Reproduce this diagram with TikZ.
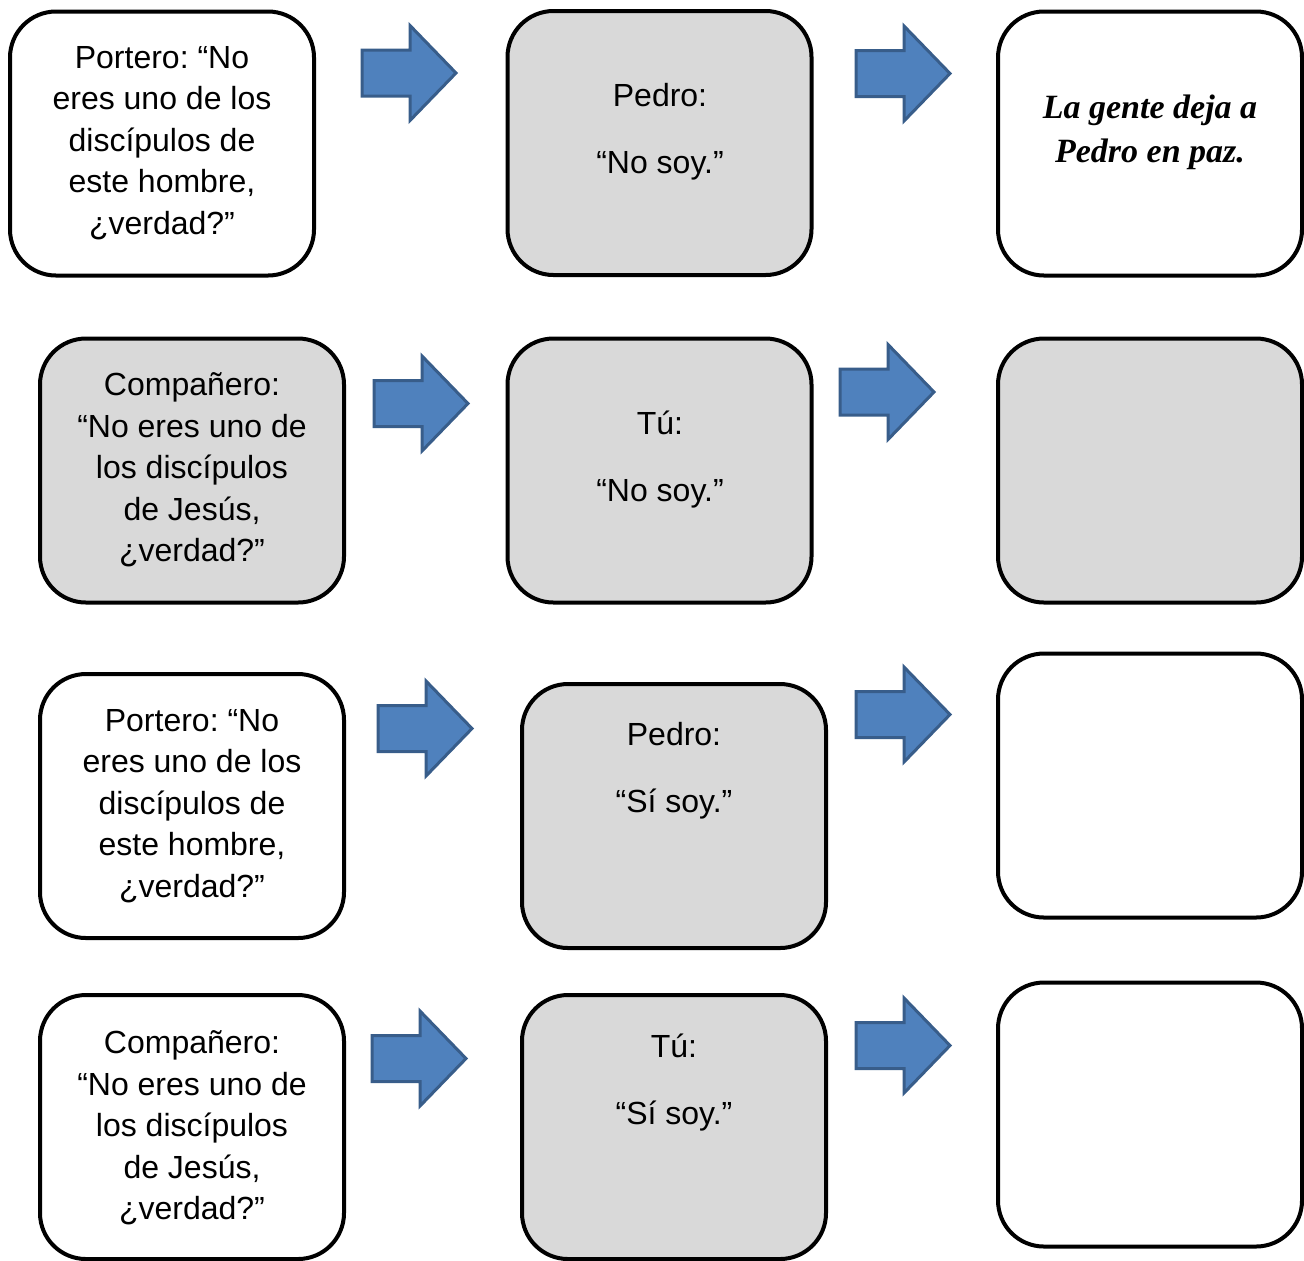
\documentclass[tikz,border=0pt]{standalone}
\usepackage{fontspec}
\setmainfont{Liberation Sans}
\newfontfamily\cursivefam{Liberation Serif}
\definecolor{boxgray}{HTML}{D9D9D9}
\definecolor{arrfill}{HTML}{4F81BD}
\definecolor{arrline}{HTML}{385D8A}
\frenchspacing
\begin{document}
\begin{tikzpicture}[x=0.5pt,y=-0.5pt,
  wbox/.style={draw=black,line width=2pt,rounded corners=23pt,fill=white,
    minimum width=152pt,minimum height=132pt,inner sep=0pt},
  gbox/.style={wbox,fill=boxgray},
  txt/.style={align=center,inner sep=0pt,font=\frenchspacing\fontsize{16}{20.75}\selectfont},
  stxt/.style={align=center,inner sep=0pt,font=\frenchspacing\cursivefam\bfseries\itshape\fontsize{17}{22}\selectfont},
  barrow/.style={fill=arrfill,draw=arrline,line width=1.5pt,line join=miter}
]
\useasboundingbox (0,0) rectangle (1304,1260);

% row 1
\node[wbox] (a1) at (162,143.5) {};
\node[gbox] (b1) at (659.5,143) {};
\node[wbox] (c1) at (1150,143.5) {};
% row 2
\node[gbox] (a2) at (192,470.5) {};
\node[gbox] (b2) at (659.5,470.5) {};
\node[gbox] (c2) at (1150,470.5) {};
% row 3
\node[wbox] (a3) at (192,806) {};
\node[gbox] (b3) at (674,816) {};
\node[wbox] (c3) at (1150,785.5) {};
% row 4
\node[wbox] (a4) at (192,1127) {};
\node[gbox] (b4) at (674,1127) {};
\node[wbox] (c4) at (1150,1114.5) {};

% texts
\node[txt] (ta1) at (162,143) {Portero: “No\\eres uno de los\\discípulos de\\este hombre,\\¿verdad?”};
\node[txt] (tb1) at (660,132) {Pedro:\\[12.75pt]“No soy.”};
\node[stxt] (tc1) at (1150,132) {La gente deja a\\Pedro en paz.};

\node[txt] (ta2) at (192,470) {Compañero:\\“No eres uno de\\los discípulos\\de Jesús,\\¿verdad?”};
\node[txt] (tb2) at (660,459.5) {Tú:\\[12.75pt]“No soy.”};

\node[txt] (ta3) at (192,806) {Portero: “No\\eres uno de los\\discípulos de\\este hombre,\\¿verdad?”};
\node[txt] (tb3) at (674,770.5) {Pedro:\\[12.75pt]“Sí soy.”};

\node[txt] (ta4) at (192,1128) {Compañero:\\“No eres uno de\\los discípulos\\de Jesús,\\¿verdad?”};
\node[txt] (tb4) at (674,1082.5) {Tú:\\[12.75pt]“Sí soy.”};

% block arrows
\foreach \n/\x/\y in {p11/362/73, p12/856/73.5, p21/374/403.5, p22/840/392,
                      p31/378/728.5, p32/856/714.5, p41/372/1058.5, p42/856/1045.5}{
  \coordinate (\n) at (\x,\y);
  \draw[barrow] (\n) ++(0,-23) -- ++(48,0) -- ++(0,-24.5) -- ++(46,47.5)
    -- ++(-46,47.5) -- ++(0,-24.5) -- ++(-48,0) -- cycle;
}
\end{tikzpicture}
\end{document}
